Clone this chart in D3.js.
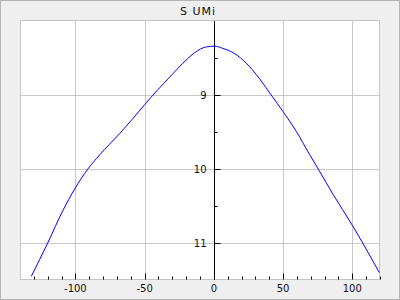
<!DOCTYPE html>
<html>
<head>
<meta charset="utf-8">
<script src="https://cdn.jsdelivr.net/npm/d3@7"></script>
<style>
  body { margin: 0; background: #efefef; }
  svg { display: block; font-family: "DejaVu Sans", sans-serif; }
</style>
</head>
<body>
<div id="chart"></div>
<script>
const title = "S UMi"

// phase (days) vs magnitude
const phase = [-131.8, -120, -109, -100.5, -91, -82.5, -68, -59, -50, -41, -33, -19, -14, -5.5, 0.5, 6.5, 15, 23.4, 33, 41.4, 49.8, 59.5, 69, 76, 86, 100, 107.5, 119.5]
const mag   = [11.45, 11.0, 10.56, 10.27, 10.0, 9.81, 9.52, 9.33, 9.13, 8.94, 8.78, 8.51, 8.43, 8.35, 8.34, 8.37, 8.44, 8.57, 8.78, 9.0, 9.22, 9.49, 9.8, 10.02, 10.34, 10.76, 11.0, 11.4]

const xTicks = [-100, -50, 0, 50, 100]
const yTicks = [9, 10, 11]

const width = 400
const height = 300
const margin = { top: 21, right: 20, bottom: 20, left: 20 }

const data = phase.map((p, i) => ({ p: p, m: mag[i] }))

const svg = d3.select("#chart")
  .append("svg")
  .attr("width", width)
  .attr("height", height)

// outer frame
svg.append("rect")
  .attr("x", 0.5).attr("y", 0.5)
  .attr("width", width - 1).attr("height", height - 1)
  .attr("fill", "#efefef")
  .attr("stroke", "#b4b4b4")

const x = d3.scaleLinear()
  .domain([-140, 120])
  .range([margin.left, width - margin.right])

const y = d3.scaleLinear()
  .domain([8, 11.5])
  .range([margin.top, height - margin.bottom])

// plot area
svg.append("rect")
  .attr("x", margin.left + 0.5)
  .attr("y", margin.top - 0.5)
  .attr("width", width - margin.left - margin.right - 1)
  .attr("height", height - margin.top - margin.bottom)
  .attr("fill", "#fff")
  .attr("stroke", "#c4c4c4")

// grid
svg.append("g")
  .selectAll("line")
  .data(xTicks.filter(d => d !== 0))
  .enter()
  .append("line")
  .attr("x1", d => Math.round(x(d)) + 0.5)
  .attr("x2", d => Math.round(x(d)) + 0.5)
  .attr("y1", margin.top)
  .attr("y2", height - margin.bottom)
  .attr("stroke", "#c8c8c8")

svg.append("g")
  .selectAll("line")
  .data(yTicks)
  .enter()
  .append("line")
  .attr("x1", margin.left + 1)
  .attr("x2", width - margin.right - 1)
  .attr("y1", d => Math.round(y(d)) + 0.5)
  .attr("y2", d => Math.round(y(d)) + 0.5)
  .attr("stroke", "#c8c8c8")

// bottom ticks (inside, pointing up)
const xMinor = d3.range(-130, 121, 10)
const bottomY = height - margin.bottom - 0.5
svg.append("g")
  .selectAll("line")
  .data(xMinor)
  .enter()
  .append("line")
  .attr("x1", d => Math.round(x(d)) + 0.5)
  .attr("x2", d => Math.round(x(d)) + 0.5)
  .attr("y1", bottomY)
  .attr("y2", d => bottomY - (d % 50 === 0 ? 6 : 3))
  .attr("stroke", "#000")

svg.append("g")
  .selectAll("text")
  .data(xTicks)
  .enter()
  .append("text")
  .attr("x", d => x(d))
  .attr("y", 292)
  .attr("text-anchor", "middle")
  .style("font-size", "10px")
  .attr("fill", "#111")
  .text(d => d)

// vertical axis at phase 0
const ax = Math.round(x(0)) + 0.5
svg.append("line")
  .attr("x1", ax).attr("x2", ax)
  .attr("y1", margin.top)
  .attr("y2", height - margin.bottom)
  .attr("stroke", "#000")

const yMinor = d3.range(8.5, 11.5, 0.5)
svg.append("g")
  .selectAll("line")
  .data(yMinor)
  .enter()
  .append("line")
  .attr("x1", ax)
  .attr("x2", d => ax + (d % 1 === 0 ? 6 : 3))
  .attr("y1", d => Math.round(y(d)) + 0.5)
  .attr("y2", d => Math.round(y(d)) + 0.5)
  .attr("stroke", "#000")

svg.append("g")
  .selectAll("text")
  .data(yTicks)
  .enter()
  .append("text")
  .attr("x", ax - 8)
  .attr("y", d => y(d) + 4)
  .attr("text-anchor", "end")
  .style("font-size", "10px")
  .attr("fill", "#111")
  .text(d => d)

// light curve
const line = d3.line()
  .x(d => x(d.p))
  .y(d => y(d.m))
  .curve(d3.curveMonotoneX)

svg.append("clipPath")
  .attr("id", "clip")
  .append("rect")
  .attr("x", margin.left)
  .attr("y", margin.top)
  .attr("width", width - margin.left - margin.right)
  .attr("height", height - margin.top - margin.bottom)

svg.append("path")
  .datum(data)
  .attr("clip-path", "url(#clip)")
  .attr("d", line)
  .attr("fill", "none")
  .attr("stroke", "#0000ff")
  .attr("stroke-width", 1)

// title
svg.append("text")
  .attr("x", 198)
  .attr("y", 15)
  .attr("text-anchor", "middle")
  .style("font-size", "11px")
  .style("letter-spacing", "1px")
  .attr("fill", "#111")
  .text(title)
</script>
</body>
</html>
